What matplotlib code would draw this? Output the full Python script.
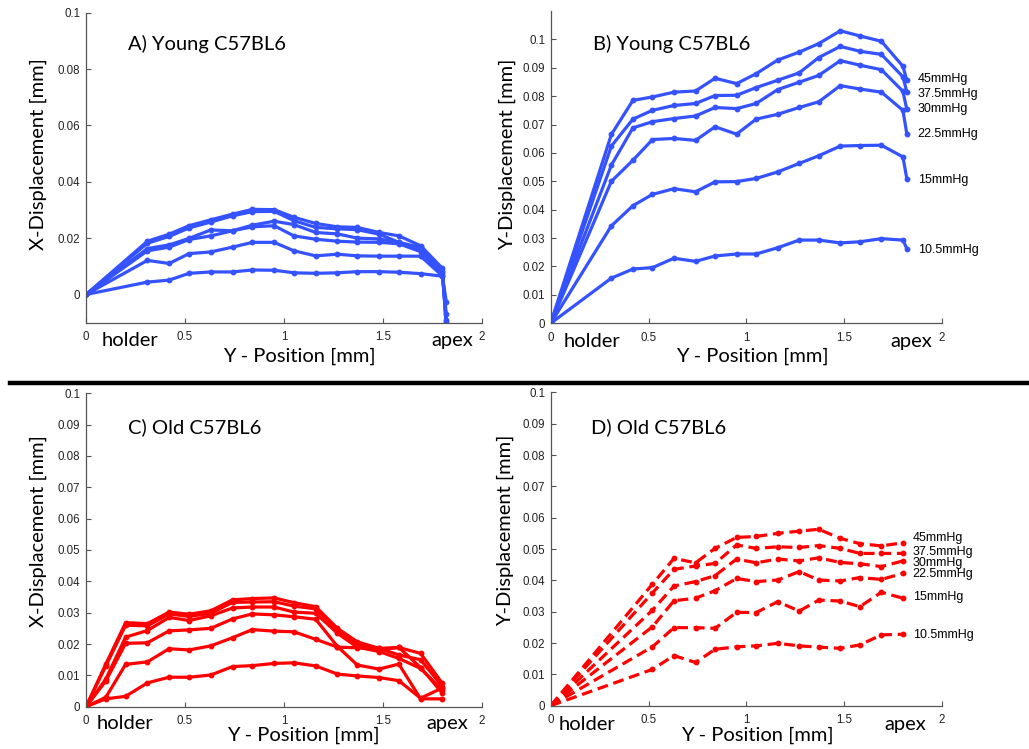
import matplotlib
matplotlib.use("Agg")
import matplotlib.pyplot as plt
from matplotlib.lines import Line2D
from matplotlib.ticker import FuncFormatter

# ---------------- data ----------------
pressures = ["45mmHg", "37.5mmHg", "30mmHg", "22.5mmHg", "15mmHg", "10.5mmHg"]

x_young = [0, 0.31, 0.42, 0.52, 0.63, 0.74, 0.84, 0.95, 1.05, 1.16, 1.27, 1.37, 1.48, 1.58, 1.69, 1.80, 1.82]

a_45  = [0, 0.0189, 0.0214, 0.0244, 0.0265, 0.0285, 0.0302, 0.0301, 0.0274, 0.0252, 0.0240, 0.0238, 0.0220, 0.0208, 0.0173, 0.0093, -0.0120]
a_375 = [0, 0.0182, 0.0206, 0.0236, 0.0257, 0.0279, 0.0294, 0.0295, 0.0262, 0.0238, 0.0233, 0.0230, 0.0214, 0.0185, 0.0167, 0.0085, -0.0110]
a_30  = [0, 0.0163, 0.0176, 0.0199, 0.0229, 0.0226, 0.0246, 0.0260, 0.0248, 0.0220, 0.0215, 0.0200, 0.0197, 0.0185, 0.0160, 0.0080, -0.0099]
a_225 = [0, 0.0155, 0.0168, 0.0195, 0.0208, 0.0226, 0.0240, 0.0244, 0.0208, 0.0196, 0.0189, 0.0186, 0.0185, 0.0180, 0.0152, 0.0072, -0.0090]
a_15  = [0, 0.0121, 0.0110, 0.0145, 0.0151, 0.0168, 0.0185, 0.0185, 0.0155, 0.0137, 0.0143, 0.0137, 0.0136, 0.0136, 0.0136, 0.0066, -0.0071]
a_105 = [0, 0.0044, 0.0051, 0.0075, 0.0080, 0.0080, 0.0087, 0.0086, 0.0077, 0.0075, 0.0077, 0.0081, 0.0081, 0.0079, 0.0074, 0.0065, -0.0027]

b_45  = [0, 0.0665, 0.0785, 0.0797, 0.0814, 0.0818, 0.0863, 0.0844, 0.0879, 0.0927, 0.0955, 0.0985, 0.1030, 0.1012, 0.0993, 0.0905, 0.0856]
b_375 = [0, 0.0624, 0.0719, 0.0750, 0.0767, 0.0774, 0.0802, 0.0803, 0.0830, 0.0856, 0.0882, 0.0936, 0.0975, 0.0958, 0.0947, 0.0868, 0.0815]
b_30  = [0, 0.0557, 0.0688, 0.0710, 0.0721, 0.0730, 0.0760, 0.0756, 0.0774, 0.0823, 0.0849, 0.0873, 0.0925, 0.0909, 0.0893, 0.0817, 0.0753]
b_225 = [0, 0.0500, 0.0574, 0.0647, 0.0651, 0.0644, 0.0692, 0.0666, 0.0719, 0.0736, 0.0760, 0.0780, 0.0837, 0.0825, 0.0814, 0.0750, 0.0667]
b_15  = [0, 0.0343, 0.0414, 0.0454, 0.0474, 0.0463, 0.0498, 0.0499, 0.0510, 0.0533, 0.0563, 0.0590, 0.0624, 0.0626, 0.0627, 0.0586, 0.0509]
b_105 = [0, 0.0159, 0.0191, 0.0196, 0.0229, 0.0218, 0.0237, 0.0244, 0.0244, 0.0266, 0.0293, 0.0293, 0.0283, 0.0287, 0.0298, 0.0293, 0.0263]
b_label_y = [0.0859, 0.0806, 0.0754, 0.0668, 0.0504, 0.0258]

x_old_c = [0, 0.10, 0.20, 0.31, 0.42, 0.52, 0.63, 0.74, 0.84, 0.95, 1.05, 1.16, 1.27, 1.37, 1.48, 1.58, 1.69, 1.80]
c_45  = [0, 0.0136, 0.0268, 0.0265, 0.0302, 0.0295, 0.0306, 0.0341, 0.0345, 0.0347, 0.0332, 0.0319, 0.0250, 0.0207, 0.0186, 0.0165, 0.0150, 0.0064]
c_375 = [0, 0.0130, 0.0260, 0.0258, 0.0296, 0.0288, 0.0298, 0.0333, 0.0334, 0.0335, 0.0321, 0.0312, 0.0245, 0.0200, 0.0181, 0.0189, 0.0170, 0.0074]
c_30  = [0, 0.0088, 0.0222, 0.0243, 0.0285, 0.0275, 0.0290, 0.0315, 0.0318, 0.0318, 0.0302, 0.0298, 0.0234, 0.0190, 0.0176, 0.0154, 0.0122, 0.0053]
c_225 = [0, 0.0082, 0.0202, 0.0204, 0.0242, 0.0245, 0.0250, 0.0280, 0.0296, 0.0293, 0.0287, 0.0279, 0.0192, 0.0133, 0.0120, 0.0136, 0.0025, 0.0025]
c_15  = [0, 0.0030, 0.0135, 0.0143, 0.0185, 0.0181, 0.0194, 0.0220, 0.0246, 0.0241, 0.0239, 0.0215, 0.0190, 0.0188, 0.0186, 0.0189, 0.0125, 0.0043]
c_105 = [0, 0.0025, 0.0033, 0.0076, 0.0094, 0.0094, 0.0101, 0.0128, 0.0131, 0.0138, 0.0140, 0.0130, 0.0104, 0.0098, 0.0093, 0.0083, 0.0027, 0.0060]

x_old_d = [0, 0.52, 0.63, 0.74, 0.84, 0.95, 1.05, 1.16, 1.27, 1.37, 1.48, 1.58, 1.69, 1.80]
d_45  = [0, 0.0388, 0.0470, 0.0456, 0.0502, 0.0537, 0.0540, 0.0550, 0.0557, 0.0563, 0.0534, 0.0517, 0.0510, 0.0520]
d_375 = [0, 0.0360, 0.0435, 0.0446, 0.0454, 0.0513, 0.0502, 0.0507, 0.0505, 0.0511, 0.0502, 0.0486, 0.0486, 0.0486]
d_30  = [0, 0.0305, 0.0382, 0.0396, 0.0415, 0.0468, 0.0456, 0.0468, 0.0462, 0.0472, 0.0457, 0.0453, 0.0444, 0.0462]
d_225 = [0, 0.0252, 0.0335, 0.0343, 0.0367, 0.0406, 0.0396, 0.0401, 0.0428, 0.0401, 0.0398, 0.0409, 0.0403, 0.0422]
d_15  = [0, 0.0188, 0.0249, 0.0249, 0.0247, 0.0298, 0.0297, 0.0332, 0.0302, 0.0337, 0.0334, 0.0316, 0.0362, 0.0343]
d_105 = [0, 0.0116, 0.0160, 0.0138, 0.0180, 0.0188, 0.0191, 0.0199, 0.0191, 0.0187, 0.0183, 0.0194, 0.0226, 0.0228]
d_label_y = [0.0534, 0.0492, 0.0455, 0.0420, 0.0346, 0.0225]

x_ticks = [0, 0.5, 1, 1.5, 2]
x_ticklabels = ["0", "0.5", "1", "1.5", "2"]

# ---------------- style ----------------
BLUE = "#3452ff"
RED = "#ff0000"
TICK_FONT = "Liberation Sans"
BIG_FONT = "Lato"
BIG_SIZE = 14.5

fig = plt.figure(figsize=(10.29, 7.49), dpi=100)
fig.patch.set_facecolor("white")


def make_ax(rect, ylim, yticks):
    ax = fig.add_axes(rect)
    ax.set_xlim(0, 2)
    ax.set_ylim(*ylim)
    for s in ("top", "right"):
        ax.spines[s].set_visible(False)
    for s in ("left", "bottom"):
        ax.spines[s].set_color("#555555")
        ax.spines[s].set_linewidth(0.9)
    ax.set_xticks(x_ticks)
    ax.set_xticklabels(x_ticklabels)
    ax.set_yticks(yticks)
    ax.yaxis.set_major_formatter(FuncFormatter(lambda v, p: ("%g" % round(v, 4))))
    ax.tick_params(direction="in", length=3.5, width=0.8, color="#555555",
                   labelsize=8.3, labelcolor="#222222", pad=4)
    for lab in ax.get_xticklabels() + ax.get_yticklabels():
        lab.set_fontfamily(TICK_FONT)
    ax.tick_params(axis="x", pad=6)
    return ax


def decorate(ax, title, ylabel, tx, ty, ylx, yly, xlx, xly, holder_x, apex_x, hy):
    ax.text(tx, ty, title, transform=ax.transAxes, fontsize=BIG_SIZE, family=BIG_FONT,
            ha="left", va="center")
    ax.text(ylx, yly, ylabel, transform=ax.transAxes, fontsize=BIG_SIZE, family=BIG_FONT,
            rotation=90, ha="center", va="center")
    ax.text(xlx, xly, "Y - Position [mm]", transform=ax.transAxes, fontsize=BIG_SIZE,
            family=BIG_FONT, ha="center", va="center")
    ax.text(holder_x, hy, "holder", transform=ax.transAxes, fontsize=BIG_SIZE,
            family=BIG_FONT, ha="left", va="center")
    ax.text(apex_x, hy, "apex", transform=ax.transAxes, fontsize=BIG_SIZE,
            family=BIG_FONT, ha="left", va="center")


lw = 2.3
ms = 3.2

# Panel A
axA = make_ax([0.0836, 0.5692, 0.3848, 0.4139], (-0.01, 0.1), [0, 0.02, 0.04, 0.06, 0.08, 0.1])
for ys in (a_45, a_375, a_30, a_225, a_15, a_105):
    axA.plot(x_young, ys, color=BLUE, lw=lw, marker="o", ms=ms, solid_joinstyle="round")
decorate(axA, "A) Young C57BL6", "X-Displacement [mm]", 0.106, 0.899, -0.12, 0.545,
         0.54, -0.11, 0.04, 0.873, -0.058)

# Panel B
axB = make_ax([0.5352, 0.5684, 0.3803, 0.4170], (0, 0.11), [i / 100 for i in range(11)])
for ys in (b_45, b_375, b_30, b_225, b_15, b_105):
    axB.plot(x_young, ys, color=BLUE, lw=lw, marker="o", ms=ms, solid_joinstyle="round")
for lab, yv in zip(pressures, b_label_y):
    axB.text(1.875, yv, lab, fontsize=9, family=TICK_FONT, ha="left", va="center")
decorate(axB, "B) Young C57BL6", "Y-Displacement [mm]", 0.107, 0.894, -0.11, 0.54,
         0.516, -0.107, 0.032, 0.867, -0.059)

# Panel C
axC = make_ax([0.0836, 0.0565, 0.3848, 0.4184], (0, 0.1), [i / 100 for i in range(11)])
for ys in (c_45, c_375, c_30, c_225, c_15, c_105):
    axC.plot(x_old_c, ys, color=RED, lw=lw, marker="o", ms=ms, solid_joinstyle="round")
decorate(axC, "C) Old C57BL6", "X-Displacement [mm]", 0.106, 0.893, -0.12, 0.56,
         0.55, -0.09, 0.027, 0.86, -0.055)

# Panel D
axD = make_ax([0.5352, 0.0578, 0.3803, 0.4184], (0, 0.1), [i / 100 for i in range(11)])
for ys in (d_45, d_375, d_30, d_225, d_15, d_105):
    axD.plot(x_old_d, ys, color=RED, lw=lw, marker="o", ms=ms,
             linestyle=(0, (3.4, 1.8)), dash_capstyle="butt")
for lab, yv in zip(pressures, d_label_y):
    axD.text(1.85, yv, lab, fontsize=9, family=TICK_FONT, ha="left", va="center")
decorate(axD, "D) Old C57BL6", "Y-Displacement [mm]", 0.102, 0.890, -0.116, 0.56,
         0.527, -0.094, 0.0195, 0.852, -0.059)

# separator line between rows
fig.add_artist(Line2D([10 / 1029, 1.0], [1 - 383 / 749, 1 - 383 / 749],
                      transform=fig.transFigure, color="black", lw=3.2))

fig.savefig("out.png", dpi=100, facecolor="white")
